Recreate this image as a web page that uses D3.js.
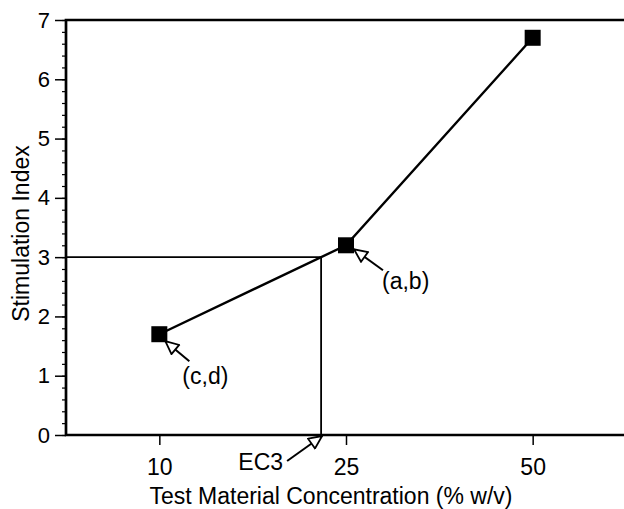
<!DOCTYPE html>
<html>
<head>
<meta charset="utf-8">
<script src="https://cdn.jsdelivr.net/npm/d3@7"></script>
<style>
  body { margin: 0; background: #fff; }
  text { font-family: "Liberation Sans", Arial, sans-serif; fill: #000; }
</style>
</head>
<body>
<div class="chart"></div>
<script>
// data
var concentrations = [10, 25, 50];
var stimIndex = [1.7, 3.2, 6.7];
var yTicks = [0, 1, 2, 3, 4, 5, 6, 7];
var threshold = 3;
var ec3 = 23;
var pointLabels = ["(c,d)", "(a,b)", null];

var width = 624, height = 509;
var margin = {top: 20, right: -2, bottom: 74, left: 66};
var innerW = width - margin.left - margin.right;
var innerH = height - margin.top - margin.bottom;

// where each annotation sits relative to its point
var labelLayout = {
    "(c,d)": {tip: [6, 7], tail: [30, 27], text: [23, 50]},
    "(a,b)": {tip: [8, 4], tail: [37, 25], text: [36, 44]}
};

function drawGraph() {
    const svg = d3.select('.chart')
      .append('svg')
        .attr('width', width)
        .attr('height', height)
      .append('g')
        .attr("transform", "translate(" + margin.left + "," + margin.top + ")");

    // arrowhead (hollow triangle)
    svg.append('defs').append('marker')
        .attr('id', 'arrow')
        .attr('markerUnits', 'userSpaceOnUse')
        .attr('viewBox', '0 0 16 14')
        .attr('markerWidth', 16)
        .attr('markerHeight', 14)
        .attr('refX', 14.5)
        .attr('refY', 7)
        .attr('orient', 'auto')
      .append('path')
        .attr('d', 'M14.5,7 L1.5,1 L1.5,13 Z')
        .attr('fill', 'white')
        .attr('stroke', 'black')
        .attr('stroke-width', 1.8)
        .attr('stroke-linejoin', 'miter');

    // categories equally spaced, values in between interpolated piecewise
    var xPoint = d3.scalePoint()
        .domain(concentrations)
        .range([0, innerW])
        .padding(0.5);
    var x = d3.scaleLinear()
        .domain(concentrations)
        .range(concentrations.map(function(c) { return xPoint(c); }));

    var y = d3.scaleLinear()
        .domain([0, 7])
        .range([innerH, 0]);

    // minor y ticks
    svg.append('g')
        .call(d3.axisLeft(y).tickValues(d3.range(0, 7.01, 0.2)).tickSize(4).tickFormat(''))
        .call(g => g.select('.domain').remove())
        .call(g => g.selectAll('line').attr('stroke-width', 1.2));

    // major y ticks
    var yAxis = svg.append('g')
        .call(d3.axisLeft(y).tickValues(yTicks).tickSize(11).tickPadding(5).tickFormat(d3.format('d')))
        .call(g => g.select('.domain').remove());
    yAxis.selectAll('line').attr('stroke-width', 1.5);
    yAxis.selectAll('text').attr('font-size', 22).style('font-size', '22px');

    // x axis
    var xAxis = svg.append('g')
        .attr('transform', 'translate(0,' + innerH + ')')
        .call(d3.axisBottom(x).tickValues(concentrations).tickSize(10).tickPadding(14).tickFormat(d3.format('d')))
        .call(g => g.select('.domain').remove());
    xAxis.selectAll('line').attr('stroke-width', 1.5);
    xAxis.selectAll('text').attr('font-size', 23).style('font-size', '23px');

    // frame: left, top, bottom
    svg.append('path')
        .attr('d', 'M' + innerW + ',0 H0 V' + innerH + ' H' + innerW)
        .attr('fill', 'none')
        .attr('stroke', 'black')
        .attr('stroke-width', 2.7);

    // EC3 construction lines
    svg.append('path')
        .attr('d', 'M0,' + y(threshold) + ' H' + x(ec3) + ' V' + y(0))
        .attr('fill', 'none')
        .attr('stroke', 'black')
        .attr('stroke-width', 1.8);

    // data line
    var data = concentrations.map(function(c, i) { return {c: c, v: stimIndex[i], label: pointLabels[i]}; });
    svg.append('path')
        .datum(data)
        .attr('d', d3.line().x(d => x(d.c)).y(d => y(d.v)))
        .attr('fill', 'none')
        .attr('stroke', 'black')
        .attr('stroke-width', 2.4);

    svg.selectAll('.pt')
        .data(data)
        .enter()
        .append('rect')
        .attr('x', d => x(d.c) - 8)
        .attr('y', d => y(d.v) - 8)
        .attr('width', 16)
        .attr('height', 16)
        .attr('fill', 'black');

    // point annotations
    data.filter(d => d.label).forEach(function(d) {
        var px = x(d.c), py = y(d.v), l = labelLayout[d.label];
        svg.append('line')
            .attr('x1', px + l.tail[0]).attr('y1', py + l.tail[1])
            .attr('x2', px + l.tip[0]).attr('y2', py + l.tip[1])
            .attr('stroke', 'black')
            .attr('stroke-width', 2)
            .attr('marker-end', 'url(#arrow)');
        svg.append('text')
            .attr('x', px + l.text[0])
            .attr('y', py + l.text[1])
            .style('font-size', '23px')
            .text(d.label);
    });

    // EC3 annotation
    var ex = x(ec3), ey = y(0);
    svg.append('line')
        .attr('x1', ex - 34).attr('y1', ey + 26)
        .attr('x2', ex + 1).attr('y2', ey + 1)
        .attr('stroke', 'black')
        .attr('stroke-width', 2)
        .attr('marker-end', 'url(#arrow)');
    svg.append('text')
        .attr('x', ex - 38)
        .attr('y', ey + 35)
        .attr('text-anchor', 'end')
        .style('font-size', '23px')
        .text('EC3');

    // axis titles
    svg.append('text')
        .attr('x', 265)
        .attr('y', innerH + 69)
        .attr('text-anchor', 'middle')
        .style('font-size', '23px')
        .text('Test Material Concentration (% w/v)');

    svg.append('text')
        .attr('transform', 'translate(' + (-37) + ',' + (innerH / 2 + 6) + ') rotate(-90)')
        .attr('text-anchor', 'middle')
        .style('font-size', '23px')
        .text('Stimulation Index');
}

drawGraph();
</script>
</body>
</html>
